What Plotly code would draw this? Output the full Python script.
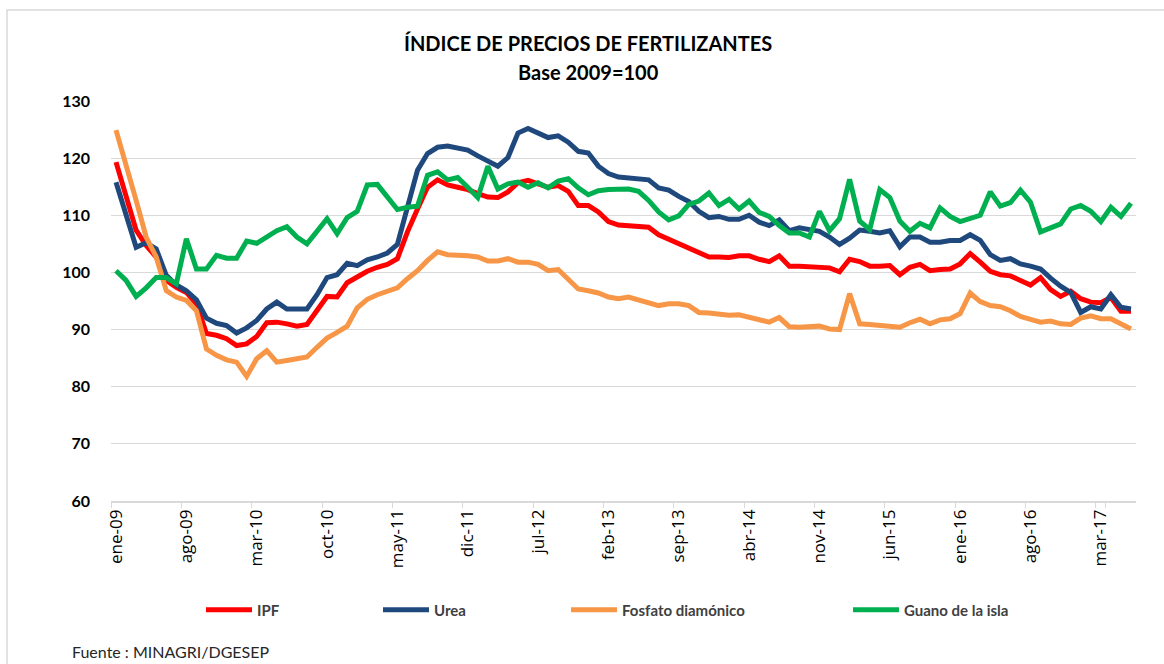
import plotly.graph_objects as go

# ---- data -------------------------------------------------------------
MESES = ["ene", "feb", "mar", "abr", "may", "jun", "jul", "ago", "sep", "oct", "nov", "dic"]
N_MESES = 102  # ene-09 ... jun-17
meses = [f"{MESES[k % 12]}-{9 + k // 12:02d}" for k in range(N_MESES)]

ipf = [119.3, 113.2, 107.4, 104.7, 102.7, 98.6, 97.4, 96.5, 94.5, 89.3,
       89.0, 88.4, 87.2, 87.5, 88.8, 91.2, 91.3, 91.0, 90.6, 90.9,
       93.2, 95.8, 95.7, 98.2, 99.2, 100.2, 100.9, 101.4, 102.4, 107.1,
       111.1, 114.9, 116.2, 115.3, 114.9, 114.5, 113.8, 113.2, 113.1, 114.1,
       115.7, 116.1, 115.5, 114.9, 115.2, 114.2, 111.7, 111.7, 110.6, 108.9,
       108.3, 108.2, 108.2, 107.9, 106.6, 105.8, 105.0, 104.2, 103.3, 102.7,
       102.7, 102.6, 102.9, 102.9, 102.3, 101.9, 102.9, 101.1, 101.1, 101.0,
       101.0, 100.8, 100.1, 102.3, 101.9, 101.1, 101.1, 101.2, 99.6, 100.9,
       101.4, 100.3, 100.5, 100.6, 101.5, 103.3, 101.8, 100.2, 99.6, 99.4,
       98.6, 97.8, 99.1, 97.0, 95.8, 96.7, 95.4, 94.8, 94.7, 95.6,
       93.2, 93.2]

urea = [115.8, 110.0, 104.4, 105.2, 104.1, 99.5, 97.8, 96.8, 95.2, 92.0,
        91.1, 90.7, 89.4, 90.3, 91.6, 93.6, 94.8, 93.6, 93.6, 93.6,
        96.1, 99.1, 99.6, 101.6, 101.2, 102.2, 102.7, 103.4, 104.9, 111.4,
        117.9, 120.8, 121.9, 122.1, 121.7, 121.4, 120.4, 119.5, 118.6, 120.1,
        124.4, 125.2, 124.3, 123.6, 123.9, 122.8, 121.2, 120.9, 118.6, 117.3,
        116.7, 116.5, 116.4, 116.2, 114.8, 114.4, 113.3, 112.4, 110.7, 109.6,
        109.8, 109.3, 109.3, 110.0, 108.8, 108.2, 109.2, 107.3, 107.8, 107.5,
        107.2, 106.2, 104.9, 106.0, 107.4, 107.2, 106.9, 107.3, 104.5, 106.2,
        106.2, 105.3, 105.3, 105.6, 105.6, 106.6, 105.6, 103.1, 102.1, 102.4,
        101.5, 101.1, 100.6, 99.0, 97.6, 96.5, 93.0, 94.0, 93.6, 96.1,
        93.9, 93.6]

fosfato = [124.9, 119.0, 112.6, 106.2, 102.7, 96.8, 95.7, 95.1, 93.3, 86.6,
           85.5, 84.7, 84.3, 81.8, 84.9, 86.3, 84.3, 84.6, 84.9, 85.2,
           86.9, 88.5, 89.5, 90.6, 93.8, 95.3, 96.1, 96.6, 97.3, 98.9,
           100.3, 102.1, 103.6, 103.1, 103.1, 102.9, 102.7, 102.0, 102.0, 102.4,
           101.8, 101.8, 101.4, 100.3, 100.5, 98.9, 97.1, 96.8, 96.4, 95.7,
           95.4, 95.7, 95.2, 94.7, 94.2, 94.5, 94.5, 94.2, 93.0, 92.9,
           92.6, 92.5, 92.6, 92.2, 91.6, 91.3, 92.1, 90.5, 90.4, 90.4,
           90.6, 90.1, 90.0, 96.3, 91.0, 90.9, 90.7, 90.6, 90.4, 91.2,
           91.8, 91.0, 91.7, 91.9, 92.8, 96.4, 94.9, 94.2, 94.0, 93.3,
           92.3, 91.8, 91.3, 91.5, 91.0, 90.9, 92.0, 92.4, 91.9, 91.9,
           91.0, 90.1]

guano = [100.3, 98.6, 95.8, 97.3, 99.1, 99.1, 98.0, 105.9, 100.6, 100.6,
         103.0, 102.5, 102.5, 105.5, 105.1, 106.2, 107.3, 108.0, 106.2, 105.0,
         107.1, 109.4, 106.8, 109.6, 110.7, 115.3, 115.4, 113.3, 111.0, 111.4,
         111.6, 117.0, 117.6, 116.2, 116.6, 114.9, 113.1, 118.6, 114.6, 115.5,
         115.8, 114.9, 115.7, 114.8, 116.0, 116.4, 114.8, 113.6, 114.3, 114.5,
         114.6, 114.6, 114.2, 112.6, 110.6, 109.2, 109.9, 111.9, 112.5, 113.9,
         111.7, 112.8, 111.1, 112.5, 110.5, 109.8, 108.2, 106.9, 106.9, 106.2,
         110.7, 107.3, 109.4, 116.3, 109.0, 107.5, 114.5, 113.1, 109.0, 107.2,
         108.6, 107.8, 111.3, 109.8, 108.9, 109.4, 110.0, 114.1, 111.6, 112.2,
         114.4, 112.3, 107.1, 107.8, 108.5, 111.1, 111.7, 110.7, 108.9, 111.4,
         109.8, 112.1]

series_names = ["IPF", "Urea", "Fosfato diamónico", "Guano de la isla"]
series_values = [ipf, urea, fosfato, guano]
series_colors = ["#FF0000", "#1F497D", "#F79646", "#00B050"]

tick_labels = ["ene-09", "ago-09", "mar-10", "oct-10", "may-11", "dic-11", "jul-12",
               "feb-13", "sep-13", "abr-14", "nov-14", "jun-15", "ene-16", "ago-16", "mar-17"]
y_ticks = [60, 70, 80, 90, 100, 110, 120, 130]

# ---- layout constants (pixels) ---------------------------------------
W, H = 1164, 664
L, R, T, B = 111, 28, 101, 163
PW, PH = W - L - R, H - T - B

def px_x(x):
    return (x - L) / PW

def px_y(y):
    return (H - B - y) / PH

legend_x = [201, 378, 566, 848]
legend_keys = ["legend", "legend2", "legend3", "legend4"]

fig = go.Figure()
for name, vals, col, lk in zip(series_names, series_values, series_colors, legend_keys):
    fig.add_trace(go.Scatter(
        x=meses, y=vals, name=name, mode="lines",
        line=dict(color=col, width=5, shape="linear"),
        legend=lk, hoverinfo="x+y+name",
    ))

leg_font = dict(family="Lato, 'Open Sans', sans-serif", size=15, color="#404040", weight="bold")
legends = {}
for lk, lx in zip(legend_keys, legend_x):
    legends[lk] = dict(
        x=px_x(lx), y=px_y(610), xanchor="left", yanchor="middle",
        orientation="h", font=leg_font, bgcolor="rgba(0,0,0,0)",
        itemwidth=46, borderwidth=0, tracegroupgap=0,
    )

fig.update_layout(
    width=W, height=H,
    margin=dict(l=L, r=R, t=T, b=B, pad=0),
    paper_bgcolor="white", plot_bgcolor="white",
    showlegend=True,
    **legends,
    xaxis=dict(
        type="category", range=[-0.5, N_MESES - 0.5],
        tickmode="array", tickvals=tick_labels, ticktext=tick_labels,
        tickson="boundaries", ticks="outside", ticklen=5, tickcolor="#D9D9D9",
        tickangle=-90, showgrid=False, zeroline=False,
        showline=True, linecolor="#D9D9D9", linewidth=1.5,
        tickfont=dict(family="'Open Sans', 'DejaVu Sans', sans-serif", size=17, color="#000000"),
        fixedrange=True,
    ),
    yaxis=dict(
        range=[60, 130], tickmode="array", tickvals=y_ticks,
        showgrid=True, gridcolor="#D9D9D9", gridwidth=1.2,
        zeroline=False, showline=False, ticks="",
        ticklabelstandoff=20,
        tickfont=dict(family="Lato, 'Open Sans', sans-serif", size=16, color="#000000", weight="bold"),
        fixedrange=True,
    ),
    annotations=[
        dict(text="<b>ÍNDICE DE PRECIOS DE FERTILIZANTES</b>", xref="paper", yref="paper",
             x=px_x(588), y=px_y(43), xanchor="center", yanchor="middle", showarrow=False,
             font=dict(family="Lato, 'Open Sans', sans-serif", size=20, color="#000000")),
        dict(text="<b>Base 2009=100</b>", xref="paper", yref="paper",
             x=px_x(588), y=px_y(72), xanchor="center", yanchor="middle", showarrow=False,
             font=dict(family="Lato, 'Open Sans', sans-serif", size=20, color="#000000")),
        dict(text="Fuente : MINAGRI/DGESEP", xref="paper", yref="paper",
             x=px_x(70), y=px_y(651), xanchor="left", yanchor="middle", showarrow=False,
             font=dict(family="Lato, 'Open Sans', sans-serif", size=16, color="#262626")),
    ],
    shapes=[
        dict(type="path", xref="paper", yref="paper", layer="below",
             path=f"M {px_x(7)} {px_y(H + 5)} L {px_x(7)} {px_y(10)} L {px_x(W + 5)} {px_y(10)}",
             line=dict(color="#D9D9D9", width=1.5)),
    ],
)

# remove the default 8px page margin so the figure fills the window exactly
fig.write_html("out.html", config={"displayModeBar": False},
               post_script="document.body.style.margin='0';")
